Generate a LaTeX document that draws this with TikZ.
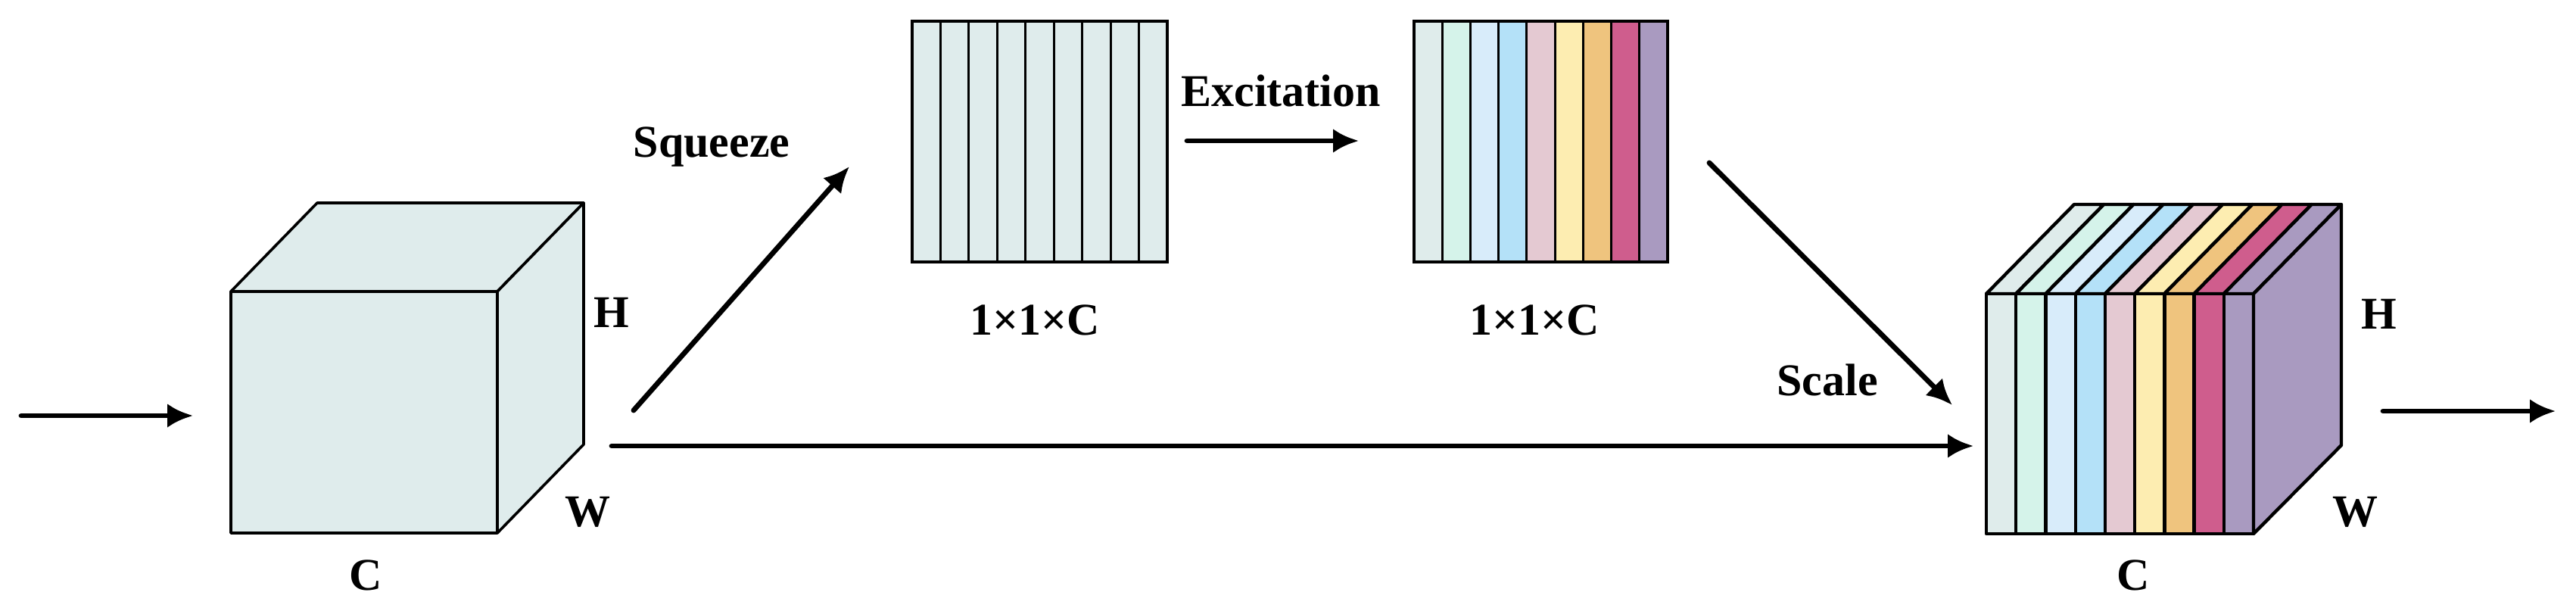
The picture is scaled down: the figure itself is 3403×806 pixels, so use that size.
\documentclass[tikz,border=0pt]{standalone}
\usepackage{fontspec}
\setmainfont{Liberation Serif}
\usetikzlibrary{arrows.meta}
\definecolor{cubefill}{HTML}{DFECEC}
\definecolor{ca}{HTML}{DFECEB}
\definecolor{cb}{HTML}{D5F3EA}
\definecolor{cc}{HTML}{D8ECFA}
\definecolor{cd}{HTML}{B4E1F8}
\definecolor{ce}{HTML}{E4C9D2}
\definecolor{cf}{HTML}{FDEDB1}
\definecolor{cg}{HTML}{EFC47E}
\definecolor{ch}{HTML}{CF5D8D}
\definecolor{ci}{HTML}{A99AC0}
\begin{document}
\begin{tikzpicture}[x=0.25pt,y=-0.25pt,
  lbl/.style={font=\fontsize{15pt}{18pt}\selectfont\bfseries, inner sep=0pt, anchor=base},
  flow/.style={line width=1.7pt, line cap=round, -{Latex[length=8.5pt,width=8pt]}},
  cubeedge/.style={line width=0.9pt, line join=round},
  baredge/.style={line width=0.75pt},
  sliceedge/.style={line width=1.1pt, line join=round}]
\path[use as bounding box] (0,0) rectangle (3403,806);

% ---- input cube ----
\filldraw[cubeedge, fill=cubefill] (305,385) -- (419,268) -- (771,268) -- (657,385) -- cycle;
\filldraw[cubeedge, fill=cubefill] (657,385) -- (771,268) -- (771,587) -- (657,704) -- cycle;
\filldraw[cubeedge, fill=cubefill] (305,385) rectangle (657,704);
\node[lbl] (h1) at (808,432) {H};
\node[lbl] (w1) at (776,695) {W};
\node[lbl] (c1) at (483,779) {C};

% ---- squeezed vector ----
\foreach \i in {0,...,8}{
  \pgfmathsetmacro{\xa}{1205+\i*37.44}
  \filldraw[baredge, fill=cubefill] (\xa,28) rectangle ++(37.44,318);
}
\draw[line width=1pt] (1205,28) rectangle (1542,346);
\node[lbl] (d1) at (1367,442) {1×1×C};

% ---- excited vector ----
\foreach \c [count=\i from 0] in {ca,cb,cc,cd,ce,cf,cg,ch,ci}{
  \pgfmathsetmacro{\xa}{1868+\i*37.22}
  \filldraw[baredge, fill=\c] (\xa,28) rectangle ++(37.22,318);
}
\draw[line width=1pt] (1868,28) rectangle (2203,346);
\node[lbl] (d2) at (2027,442) {1×1×C};

% ---- output cube ----
\foreach \c [count=\i from 0] in {ca,cb,cc,cd,ce,cf,cg,ch,ci}{
  \pgfmathsetmacro{\xa}{2624+\i*39.22}
  \pgfmathsetmacro{\xb}{\xa+39.22}
  \filldraw[sliceedge, fill=\c] (\xa,388) -- (\xa+116,270) -- (\xb+116,270) -- (\xb,388) -- cycle;
  \filldraw[sliceedge, fill=\c] (\xa,388) rectangle (\xb,705);
}
\filldraw[sliceedge, fill=ci] (2977,388) -- (3093,270) -- (3093,588) -- (2977,705) -- cycle;
\node[lbl] (h2) at (3143,434) {H};
\node[lbl] (w2) at (3111,695) {W};
\node[lbl] (c2) at (2818,779) {C};

% ---- labels ----
\node[lbl] (sq) at (940,207) {Squeeze};
\node[lbl] (ex) at (1692,140) {Excitation};
\node[lbl] (sc) at (2414,522) {Scale};

% ---- arrow end points ----
\coordinate (inS) at (28,549);
\coordinate (inE) at (255,549);
\coordinate (sqS) at (837,542);
\coordinate (sqE) at (1122,220);
\coordinate (mS) at (808,589);
\coordinate (mE) at (2607,589);
\coordinate (exS) at (1568,186);
\coordinate (exE) at (1795,186);
\coordinate (scS) at (2258,215);
\coordinate (scE) at (2579,535);
\coordinate (outS) at (3148,543);
\coordinate (outE) at (3376,543);

\draw[flow] (inS) -- (inE);
\draw[flow] (sqS) -- (sqE);
\draw[flow] (mS) -- (mE);
\draw[flow] (exS) -- (exE);
\draw[flow] (scS) -- (scE);
\draw[flow] (outS) -- (outE);
\end{tikzpicture}
\end{document}
